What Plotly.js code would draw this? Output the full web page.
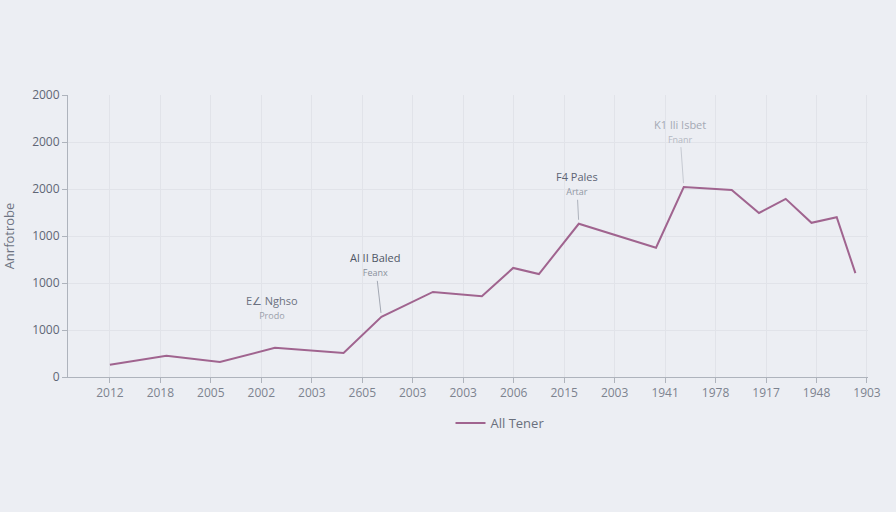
<!DOCTYPE html>
<html>
<head>
<meta charset="utf-8">
<script src="https://cdn.plot.ly/plotly-3.0.1.min.js"></script>
<style>
  html, body { margin: 0; padding: 0; background: #eceef3; }
  #chart { width: 896px; height: 512px; }
</style>
</head>
<body>
<div id="chart"></div>
<script>
// Tick labels
const xTickLabels = ["2012","2018","2005","2002","2003","2605","2003","2003","2006","2015","2003","1941","1978","1917","1948","1903"];
const yTickLabels = ["0","1000","1000","1000","2000","2000","2000"];

// Series "All Tener": positions along the category ticks and values (in tick units)
const seriesName = "All Tener";
const seriesX = [0, 1.12, 2.18, 3.27, 4.63, 5.38, 6.40, 7.37, 7.99, 8.50, 9.29, 10.82, 11.37, 12.32, 12.86, 13.39, 13.90, 14.40, 14.77];
const seriesY = [0.26, 0.45, 0.32, 0.62, 0.51, 1.28, 1.81, 1.72, 2.32, 2.19, 3.26, 2.75, 4.04, 3.98, 3.49, 3.79, 3.28, 3.40, 2.21];

// Annotations: point index, title, subtitle
const noteIndex = [3, 5, 10, 12];
const noteTitle = ["E∠ Nghso", "Al II Baled", "F4 Pales", "K1 lli Isbet"];
const noteSub = ["Prodo", "Feanx", "Artar", "Fnanr"];

const xTickVals = xTickLabels.map((_, i) => i);
const yTickVals = yTickLabels.map((_, i) => i);

const noteStyle = [
  {ax: -3, ay: -40, tc: "#6b7180", sc: "#9aa0ab", arrow: "rgba(150,155,170,0.0)"},
  {ax: -6, ay: -52, tc: "#4f5665", sc: "#8a909c", arrow: "#a3a8b3"},
  {ax: -2, ay: -40, tc: "#5d6473", sc: "#9097a3", arrow: "#adb2bc"},
  {ax: -4, ay: -56, tc: "#a4a9b4", sc: "#b4b8c2", arrow: "#c6cad2"}
];

const annotations = noteIndex.map((idx, k) => ({
  x: seriesX[idx], y: seriesY[idx], xref: "x", yref: "y",
  ax: noteStyle[k].ax, ay: noteStyle[k].ay,
  showarrow: true, arrowhead: 0, arrowwidth: 1, arrowcolor: noteStyle[k].arrow,
  standoff: 4,
  text: "<span style='font-size:11px;color:" + noteStyle[k].tc + "'>" + noteTitle[k] + "</span><br>" +
        "<span style='font-size:9px;color:" + noteStyle[k].sc + "'>" + noteSub[k] + "</span>",
  font: {family: "Open Sans, DejaVu Sans, sans-serif", size: 11, color: noteStyle[k].tc},
  align: "center"
}));

const trace = {
  type: "scatter", mode: "lines", name: seriesName,
  x: seriesX, y: seriesY,
  line: {color: "#a0648f", width: 2}
};

const layout = {
  width: 896, height: 512,
  paper_bgcolor: "#eceef3", plot_bgcolor: "#eceef3",
  margin: {l: 68, r: 28, t: 95, b: 135},
  font: {family: "Open Sans, DejaVu Sans, sans-serif", color: "#6e7482", size: 12},
  showlegend: true,
  legend: {orientation: "h", x: 0.54, xanchor: "center", y: -0.163, yanchor: "middle",
           font: {size: 13, color: "#6a707d"}, bgcolor: "rgba(0,0,0,0)"},
  xaxis: {
    range: [-0.83, 15.02], tickmode: "array", tickvals: xTickVals, ticktext: xTickLabels,
    showgrid: true, gridcolor: "#e1e3e9", gridwidth: 1,
    showline: true, linecolor: "#aeb3bc", linewidth: 1,
    ticks: "outside", ticklen: 5, tickcolor: "#aeb3bc",
    tickfont: {size: 12, color: "#7d838f"}, zeroline: false, fixedrange: true
  },
  yaxis: {
    range: [0, 6], tickmode: "array", tickvals: yTickVals, ticktext: yTickLabels,
    showgrid: true, gridcolor: "#e1e3e9", gridwidth: 1,
    showline: true, linecolor: "#aeb3bc", linewidth: 1,
    ticks: "outside", ticklen: 5, tickcolor: "#aeb3bc",
    tickfont: {size: 12, color: "#5f6676"}, zeroline: false,
    title: {text: "Anrfotrobe", font: {size: 13, color: "#6e7482"}, standoff: 14}
  },
  annotations: annotations
};

Plotly.newPlot("chart", [trace], layout, {staticPlot: true, displayModeBar: false});
</script>
</body>
</html>
